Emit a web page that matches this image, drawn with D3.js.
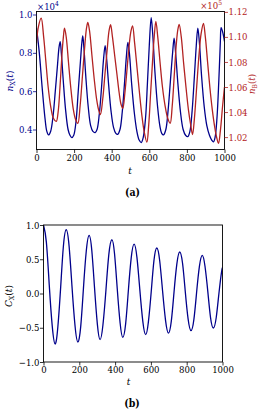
<!DOCTYPE html>
<html>
<head>
<meta charset="utf-8">
<script src="https://cdn.jsdelivr.net/npm/d3@7"></script>
<style>
  html, body { margin: 0; padding: 0; background: #fff; }
  svg { display: block; }
</style>
</head>
<body>
<div id="chart"></div>
<script>
// n_X(t) in units of 1e4  [t, value]
const nX = [
  [0,0.93],[15,0.80],[30,0.62],[45,0.46],[55,0.39],[64,0.372],[75,0.39],[88,0.47],[100,0.60],[112,0.74],[120,0.83],[126,0.858],
  [132,0.80],[142,0.66],[155,0.50],[168,0.40],[178,0.37],[188,0.358],[198,0.37],[210,0.44],[222,0.60],[234,0.76],[241,0.85],[246,0.889],
  [252,0.83],[262,0.68],[275,0.52],[288,0.42],[300,0.39],[312,0.384],[322,0.40],[334,0.48],[346,0.62],[356,0.76],[365,0.837],
  [372,0.78],[384,0.63],[396,0.50],[410,0.41],[422,0.38],[432,0.375],[444,0.40],[456,0.49],[468,0.64],[478,0.78],[486,0.854],
  [494,0.80],[506,0.64],[520,0.49],[534,0.39],[546,0.345],[557,0.332],[568,0.36],[580,0.46],[590,0.64],[600,0.84],[610,0.984],
  [618,0.90],[630,0.70],[644,0.52],[656,0.42],[666,0.38],[676,0.372],[688,0.40],[700,0.50],[712,0.65],[724,0.80],[732,0.877],
  [740,0.80],[752,0.64],[766,0.49],[780,0.40],[793,0.37],[805,0.363],[816,0.39],[828,0.50],[840,0.68],[850,0.84],[858,0.929],
  [866,0.86],[878,0.68],[892,0.52],[906,0.42],[920,0.37],[932,0.345],[941,0.335],[950,0.36],[960,0.46],[970,0.66],[978,0.86],[982,0.932],
  [990,0.91],[1000,0.86]
];

// n_B(t) in units of 1e5  [t, value]
const nB = [
  [0,1.095],[10,1.108],[25,1.115],[38,1.100],[50,1.080],[62,1.060],[75,1.045],[90,1.035],[105,1.0325],[115,1.040],[125,1.060],[135,1.085],[143,1.100],[149,1.107],
  [158,1.100],[170,1.080],[182,1.060],[195,1.043],[208,1.034],[220,1.031],[232,1.045],[245,1.070],[258,1.095],[266,1.107],[273,1.1115],
  [282,1.105],[295,1.085],[308,1.065],[320,1.050],[330,1.042],[340,1.038],[352,1.050],[364,1.070],[376,1.090],[386,1.105],[394,1.1097],
  [404,1.100],[416,1.085],[428,1.070],[440,1.055],[450,1.046],[459,1.043],[470,1.055],[482,1.075],[494,1.095],[503,1.105],[511,1.1088],
  [522,1.095],[535,1.075],[548,1.055],[560,1.038],[572,1.025],[587,1.016],[597,1.030],[607,1.055],[617,1.080],[626,1.100],[635,1.1123],
  [645,1.100],[657,1.080],[670,1.060],[684,1.045],[698,1.035],[711,1.031],[722,1.045],[733,1.070],[744,1.095],[752,1.106],[759,1.110],
  [770,1.100],[782,1.080],[795,1.060],[808,1.042],[820,1.030],[830,1.022],[840,1.035],[852,1.060],[864,1.085],[876,1.103],[888,1.1107],
  [898,1.100],[910,1.080],[922,1.060],[935,1.042],[948,1.028],[958,1.020],[968,1.015],[978,1.025],[990,1.045],[1000,1.060]
];

// C_X(t) autocorrelation  [t, value]
const cX = [
  [0,1.0],[16,0.75],[32,0.13],[49,-0.48],[65,-0.737],
  [80,-0.493],[96,0.097],[111,0.687],[127,0.931],
  [143,0.691],[159,0.11],[176,-0.468],[192,-0.708],
  [208,-0.48],[223,0.07],[239,0.62],[255,0.848],
  [270,0.625],[285,0.087],[301,-0.45],[316,-0.674],
  [332,-0.46],[349,0.055],[365,0.571],[382,0.785],
  [397,0.576],[412,0.07],[428,-0.43],[443,-0.64],
  [459,-0.44],[474,0.04],[490,0.52],[506,0.72],
  [522,0.527],[538,0.06],[555,-0.41],[571,-0.60],
  [586,-0.415],[602,0.032],[617,0.479],[633,0.664],
  [649,0.482],[665,0.044],[682,-0.395],[698,-0.577],
  [714,-0.404],[729,0.015],[745,0.433],[761,0.606],
  [777,0.438],[792,0.03],[808,-0.375],[824,-0.543],
  [840,-0.382],[855,0.007],[871,0.396],[887,0.557],
  [902,0.401],[918,0.027],[933,-0.348],[949,-0.504],
  [965,-0.35],[980,0.0],[995,0.32],[1000,0.37]
];

const tTicks = [0, 200, 400, 600, 800, 1000];
const nXTicks = [0.4, 0.6, 0.8, 1.0];
const nBTicks = [1.02, 1.04, 1.06, 1.08, 1.10, 1.12];
const cXTicks = [-1.0, -0.5, 0.0, 0.5, 1.0];

const BLUE = "#00008b";
const RED = "#b22222";
const FONT = "DejaVu Serif";
const TICK_FS = 9.5;

const svg = d3.select("#chart").append("svg")
  .attr("width", 258)
  .attr("height", 411)
  .attr("font-family", FONT)
  .attr("font-stretch", "condensed");

// math label helper: parts = [text, style]
function mathText(sel, parts, size) {
  sel.attr("font-family", FONT).attr("font-stretch", "condensed");
  parts.forEach(([txt, st]) => {
    const ts = sel.append("tspan").text(txt);
    if (st === "i") ts.attr("font-style", "italic");
    if (st === "sub") ts.attr("font-size", size * 0.7).attr("dy", size * 0.25);
    if (st === "unsub") ts.attr("dy", -size * 0.25);
    if (st === "sup") ts.attr("font-size", size * 0.7).attr("dy", -size * 0.4);
  });
  return sel;
}

function styleAxis(g, color) {
  g.attr("font-family", FONT).attr("font-size", TICK_FS).attr("font-stretch", "condensed");
  g.select(".domain").remove();
  g.selectAll(".tick line").attr("stroke", color).attr("stroke-width", 0.8);
  g.selectAll(".tick text").attr("fill", color);
}

// ---------------- Panel (a) ----------------
const a = { left: 36.5, right: 224.5, top: 11.5, bottom: 149.5 };

const xA = d3.scaleLinear().domain([0, 1000]).range([a.left, a.right]);
const yX = d3.scaleLinear().domain([0.2957, 1.0157]).range([a.bottom, a.top]);
const yB = d3.scaleLinear().domain([1.0101, 1.1203]).range([a.bottom, a.top]);

const defs = svg.append("defs");
defs.append("clipPath").attr("id", "clipA")
  .append("rect")
  .attr("x", a.left).attr("y", a.top)
  .attr("width", a.right - a.left).attr("height", a.bottom - a.top);

const gA = svg.append("g").attr("clip-path", "url(#clipA)");

gA.append("path")
  .datum(nX)
  .attr("fill", "none")
  .attr("stroke", BLUE)
  .attr("stroke-width", 1.3)
  .attr("d", d3.line().x(d => xA(d[0])).y(d => yX(d[1])).curve(d3.curveCatmullRom));

gA.append("path")
  .datum(nB)
  .attr("fill", "none")
  .attr("stroke", RED)
  .attr("stroke-width", 1.3)
  .attr("d", d3.line().x(d => xA(d[0])).y(d => yB(d[1])).curve(d3.curveCatmullRom));

svg.append("rect")
  .attr("x", a.left).attr("y", a.top)
  .attr("width", a.right - a.left).attr("height", a.bottom - a.top)
  .attr("fill", "none").attr("stroke", "#000").attr("stroke-width", 0.9);

svg.append("g")
  .attr("transform", `translate(0,${a.bottom})`)
  .call(d3.axisBottom(xA).tickValues(tTicks).tickSize(3.5).tickPadding(1.5).tickFormat(d3.format("d")))
  .call(g => styleAxis(g, "#000"));

svg.append("g")
  .attr("transform", `translate(${a.left},0)`)
  .call(d3.axisLeft(yX).tickValues(nXTicks).tickSize(3.5).tickPadding(0.5).tickFormat(d3.format(".1f")))
  .call(g => styleAxis(g, BLUE));

svg.append("g")
  .attr("transform", `translate(${a.right},0)`)
  .call(d3.axisRight(yB).tickValues(nBTicks).tickSize(3.5).tickPadding(0.5).tickFormat(d3.format(".2f")))
  .call(g => styleAxis(g, RED));

// offset texts
mathText(svg.append("text").attr("x", 37).attr("y", 9.5).attr("fill", BLUE).attr("font-size", 9.5),
  [["×10", "r"], ["4", "sup"]], 9.5);
mathText(svg.append("text").attr("x", 222).attr("y", 9).attr("text-anchor", "end").attr("fill", RED).attr("font-size", 9.5),
  [["×10", "r"], ["5", "sup"]], 9.5);

// axis labels
mathText(svg.append("text")
  .attr("transform", "translate(12.5,81) rotate(-90)")
  .attr("text-anchor", "middle").attr("fill", BLUE).attr("font-size", 10),
  [["n", "i"], ["X", "sub"], ["(", "unsub"], ["t", "i"], [")", "r"]], 10);

mathText(svg.append("text")
  .attr("transform", "translate(254.5,84) rotate(-90)")
  .attr("text-anchor", "middle").attr("fill", RED).attr("font-size", 9.5),
  [["n", "i"], ["B", "sub"], ["(", "unsub"], ["t", "i"], [")", "r"]], 9.5);

svg.append("text")
  .attr("x", 130).attr("y", 174)
  .attr("text-anchor", "middle").attr("font-style", "italic").attr("font-size", 10)
  .text("t");

svg.append("text")
  .attr("x", 132.5).attr("y", 195.5)
  .attr("text-anchor", "middle").attr("font-weight", "bold").attr("font-size", 10.5)
  .text("(a)");

// ---------------- Panel (b) ----------------
const b = { left: 43.5, right: 222.5, top: 225, bottom: 362 };

const xB = d3.scaleLinear().domain([0, 1000]).range([b.left, b.right]);
const yC = d3.scaleLinear().domain([-1, 1]).range([b.bottom, b.top]);

defs.append("clipPath").attr("id", "clipB")
  .append("rect")
  .attr("x", b.left).attr("y", b.top - 1)
  .attr("width", b.right - b.left).attr("height", b.bottom - b.top + 2);

svg.append("g").attr("clip-path", "url(#clipB)")
  .append("path")
  .datum(cX)
  .attr("fill", "none")
  .attr("stroke", BLUE)
  .attr("stroke-width", 1.3)
  .attr("d", d3.line().x(d => xB(d[0])).y(d => yC(d[1])).curve(d3.curveNatural));

svg.append("rect")
  .attr("x", b.left).attr("y", b.top)
  .attr("width", b.right - b.left).attr("height", b.bottom - b.top)
  .attr("fill", "none").attr("stroke", "#000").attr("stroke-width", 0.9);

svg.append("g")
  .attr("transform", `translate(0,${b.bottom})`)
  .call(d3.axisBottom(xB).tickValues(tTicks).tickSize(3.5).tickPadding(0.5).tickFormat(d3.format("d")))
  .call(g => styleAxis(g, "#000"));

svg.append("g")
  .attr("transform", `translate(${b.left},0)`)
  .call(d3.axisLeft(yC).tickValues(cXTicks).tickSize(3.5).tickPadding(0.5).tickFormat(d3.format(".1f")))
  .call(g => styleAxis(g, "#000"));

mathText(svg.append("text")
  .attr("transform", "translate(11.5,296) rotate(-90)")
  .attr("text-anchor", "middle").attr("fill", "#000").attr("font-size", 10),
  [["C", "i"], ["X", "sub"], ["(", "unsub"], ["t", "i"], [")", "r"]], 10);

svg.append("text")
  .attr("x", 128.5).attr("y", 385)
  .attr("text-anchor", "middle").attr("font-style", "italic").attr("font-size", 10)
  .text("t");

svg.append("text")
  .attr("x", 132).attr("y", 406.5)
  .attr("text-anchor", "middle").attr("font-weight", "bold").attr("font-size", 10.5)
  .text("(b)");
</script>
</body>
</html>
